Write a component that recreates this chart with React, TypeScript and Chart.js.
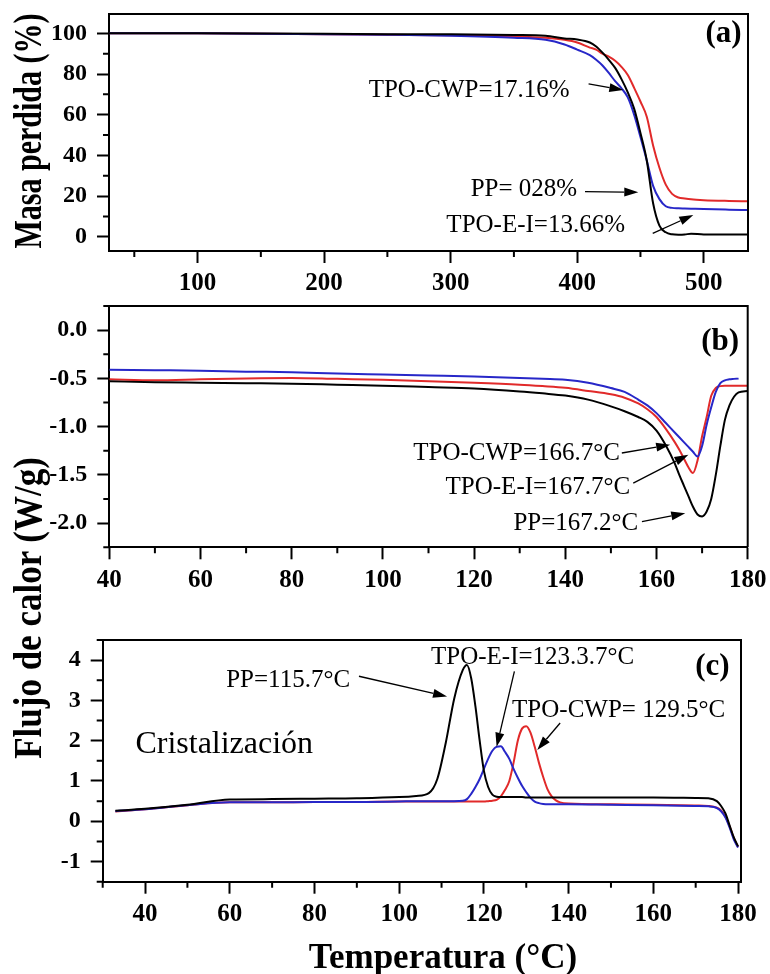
import React, { useEffect, useRef } from 'react';
import { Chart, registerables } from 'chart.js';

Chart.register(...registerables);

const SERIF = "'Liberation Serif', 'Times New Roman', 'DejaVu Serif', serif";
const COLOR_PP = '#000000';
const COLOR_EI = '#2727c8';
const COLOR_CWP = '#e12a2a';

// ---------- Panel (a): TGA ----------
const tgaTemp = [30, 100, 200, 250, 300, 350, 375, 390, 400, 410, 415, 420, 425, 430, 435, 440, 445, 450, 455, 460, 465, 470, 475, 480, 485, 490, 500, 520, 535];
const tgaPP = [100, 100, 99.8, 99.6, 99.5, 99.2, 98.8, 97.5, 97, 95.5, 93.5, 90.5, 87, 83, 77.5, 71, 63, 51, 37.5, 16.5, 5.5, 2.2, 1.2, 1.0, 1.1, 1.5, 1.1, 1.1, 1.1];
const tgaTPOEI = [100, 100, 99.6, 99.3, 98.8, 97.8, 96.8, 94.5, 92, 89.3, 87, 84.2, 80.5, 76.5, 73, 68.5, 60, 49, 37.5, 25, 18.5, 15, 14.2, 14, 13.9, 13.8, 13.6, 13.3, 13.1];
const tgaTPOCWP = [100, 100, 99.6, 99.3, 99, 98.5, 97.8, 96.8, 95.5, 93, 92, 90, 88.5, 86.5, 83.5, 79.5, 73.2, 66.5, 59, 44.9, 33.9, 25.6, 21.1, 19.3, 18.8, 18.4, 18, 17.6, 17.4];
const tgaXTicks = [100, 200, 300, 400, 500];
const tgaYTicks = [0, 20, 40, 60, 80, 100];

// ---------- Panel (b): DSC heating ----------
const heatTemp = [40, 50, 60, 70, 80, 90, 100, 110, 120, 130, 135, 140, 145, 150, 153, 156, 158, 160, 162, 164, 165, 166, 167, 168, 169, 170, 171, 172, 173, 174, 175, 176, 177, 178, 180];
const heatPP = [-0.53, -0.54, -0.545, -0.55, -0.555, -0.565, -0.575, -0.59, -0.605, -0.635, -0.655, -0.678, -0.72, -0.79, -0.84, -0.9, -0.95, -1.04, -1.19, -1.38, -1.5, -1.61, -1.72, -1.83, -1.91, -1.93, -1.88, -1.75, -1.5, -1.2, -0.93, -0.78, -0.69, -0.645, -0.63];
const heatTPOEI = [-0.41, -0.415, -0.42, -0.43, -0.436, -0.45, -0.46, -0.47, -0.48, -0.495, -0.505, -0.515, -0.545, -0.6, -0.64, -0.72, -0.78, -0.86, -0.96, -1.06, -1.11, -1.16, -1.21, -1.26, -1.31, -1.2, -0.98, -0.8, -0.64, -0.55, -0.52, -0.51, -0.505, -0.5, null];
const heatTPOCWP = [-0.51, -0.52, -0.51, -0.5, -0.495, -0.505, -0.515, -0.53, -0.545, -0.565, -0.58, -0.598, -0.63, -0.665, -0.7, -0.76, -0.82, -0.9, -1.02, -1.16, -1.24, -1.33, -1.42, -1.48, -1.35, -1.1, -0.9, -0.68, -0.6, -0.58, -0.575, -0.575, -0.575, -0.575, -0.575];
const heatXTicks = [40, 60, 80, 100, 120, 140, 160, 180];
const heatYTicks = [0, -0.5, -1, -1.5, -2];

// ---------- Panel (c): DSC cooling ----------
const coolTemp = [33, 40, 50, 60, 70, 80, 90, 100, 104, 107, 109, 111, 113, 115, 116, 117, 118, 119, 120, 121, 122, 123, 124, 125, 126, 127, 128, 129, 130, 131, 132, 133, 134, 135, 136, 137, 138, 140, 150, 160, 170, 173, 175, 176, 177, 178, 179, 180];
const coolPP = [0.26, 0.31, 0.41, 0.54, 0.55, 0.56, 0.57, 0.6, 0.63, 0.7, 1.05, 1.95, 3.05, 3.75, 3.88, 3.55, 2.85, 2.0, 1.25, 0.85, 0.66, 0.61, 0.6, 0.6, 0.6, 0.6, 0.6, 0.6, 0.59, 0.59, 0.59, 0.59, 0.59, 0.59, 0.59, 0.59, 0.59, 0.59, 0.59, 0.59, 0.58, 0.57, 0.5, 0.38, 0.2, -0.1, -0.4, -0.62];
const coolTPOEI = [0.25, 0.3, 0.4, 0.47, 0.47, 0.48, 0.48, 0.49, 0.5, 0.5, 0.5, 0.5, 0.5, 0.51, 0.55, 0.68, 0.85, 1.05, 1.3, 1.55, 1.75, 1.85, 1.86, 1.72, 1.55, 1.3, 1.08, 0.88, 0.72, 0.58, 0.49, 0.45, 0.43, 0.42, 0.42, 0.42, 0.42, 0.42, 0.41, 0.4, 0.38, 0.37, 0.33, 0.25, 0.1, -0.15, -0.45, -0.65];
const coolTPOCWP = [0.24, 0.3, 0.4, 0.47, 0.47, 0.48, 0.48, 0.49, 0.49, 0.49, 0.49, 0.49, 0.49, 0.49, 0.49, 0.49, 0.49, 0.49, 0.49, 0.5, 0.51, 0.53, 0.62, 0.78, 1.0, 1.45, 2.0, 2.3, 2.36, 2.2, 1.85, 1.45, 1.1, 0.8, 0.62, 0.52, 0.47, 0.44, 0.42, 0.41, 0.39, 0.38, 0.34, 0.27, 0.12, -0.12, -0.42, -0.64];
const coolXTicks = [40, 60, 80, 100, 120, 140, 160, 180];
const coolYTicks = [-1, 0, 1, 2, 3, 4];

// ---------- Annotations (data coordinates) ----------
type Note = { text: string; x: number; y: number; align: CanvasTextAlign; font: string };
type Arrow = { x1: number; y1: number; x2: number; y2: number };

const NOTE_FONT = `25px ${SERIF}`;
const LABEL_FONT = `bold 31px ${SERIF}`;

const tgaNotes: Note[] = [
  { text: 'TPO-CWP=17.16%', x: 394, y: 72.1, align: 'right', font: NOTE_FONT },
  { text: 'PP= 028%', x: 400, y: 23.2, align: 'right', font: NOTE_FONT },
  { text: 'TPO-E-I=13.66%', x: 437.8, y: 5.8, align: 'right', font: NOTE_FONT },
  { text: '(a)', x: 530, y: 99.5, align: 'right', font: LABEL_FONT },
];
const tgaArrows: Arrow[] = [
  { x1: 409, y1: 75.1, x2: 436.5, y2: 72.1 },
  { x1: 406.2, y1: 22.2, x2: 448.3, y2: 21.9 },
  { x1: 459.7, y1: 1.7, x2: 491.8, y2: 10.7 },
];

const heatNotes: Note[] = [
  { text: 'TPO-CWP=166.7°C', x: 152, y: -1.282, align: 'right', font: NOTE_FONT },
  { text: 'TPO-E-I=167.7°C', x: 154.2, y: -1.628, align: 'right', font: NOTE_FONT },
  { text: 'PP=167.2°C', x: 156, y: -2.0, align: 'right', font: NOTE_FONT },
  { text: '(b)', x: 178.1, y: -0.12, align: 'right', font: LABEL_FONT },
];
const heatArrows: Arrow[] = [
  { x1: 152.4, y1: -1.273, x2: 163, y2: -1.187 },
  { x1: 154.9, y1: -1.585, x2: 167, y2: -1.29 },
  { x1: 156.8, y1: -1.983, x2: 166.3, y2: -1.896 },
];

const coolNotes: Note[] = [
  { text: 'PP=115.7°C', x: 88.4, y: 3.5, align: 'right', font: NOTE_FONT },
  { text: 'TPO-E-I=123.3.7°C', x: 131.5, y: 4.06, align: 'center', font: NOTE_FONT },
  { text: 'TPO-CWP= 129.5°C', x: 151.8, y: 2.75, align: 'center', font: NOTE_FONT },
  { text: 'Cristalización', x: 58.7, y: 1.9, align: 'center', font: `32px ${SERIF}` },
  { text: '(c)', x: 178, y: 3.84, align: 'right', font: LABEL_FONT },
];
const coolArrows: Arrow[] = [
  { x1: 90.5, y1: 3.6, x2: 111.3, y2: 3.1 },
  { x1: 127.2, y1: 3.72, x2: 123, y2: 1.85 },
  { x1: 138, y1: 2.44, x2: 132.6, y2: 1.77 },
];

// ---------- Panel configuration ----------
type Series = { values: (number | null)[]; color: string };
type PanelCfg = {
  top: number; height: number;
  padding: { left: number; right: number; top: number; bottom: number };
  yWidth: number; xHeight: number;
  xMin: number; xMax: number; xTicks: number[]; xMinor: number;
  yMin: number; yMax: number; yTicks: number[]; yMinor: number;
  yFmt: (v: number) => string;
  temps: number[]; series: Series[];
  notes: Note[]; arrows: Arrow[];
};

const panels: PanelCfg[] = [
  {
    top: 0, height: 300,
    padding: { left: 29, right: 22, top: 14, bottom: 0 },
    yWidth: 80, xHeight: 49,
    xMin: 30, xMax: 535, xTicks: tgaXTicks, xMinor: 50,
    yMin: -7, yMax: 109.5, yTicks: tgaYTicks, yMinor: 10,
    yFmt: (v) => String(v),
    temps: tgaTemp,
    series: [
      { values: tgaPP, color: COLOR_PP },
      { values: tgaTPOEI, color: COLOR_EI },
      { values: tgaTPOCWP, color: COLOR_CWP },
    ],
    notes: tgaNotes, arrows: tgaArrows,
  },
  {
    top: 300, height: 300,
    padding: { left: 29.3, right: 22.3, top: 6, bottom: 0 },
    yWidth: 80, xHeight: 52.7,
    xMin: 40, xMax: 180, xTicks: heatXTicks, xMinor: 10,
    yMin: -2.25, yMax: 0.25, yTicks: heatYTicks, yMinor: 0.25,
    yFmt: (v) => v.toFixed(1),
    temps: heatTemp,
    series: [
      { values: heatPP, color: COLOR_PP },
      { values: heatTPOEI, color: COLOR_EI },
      { values: heatTPOCWP, color: COLOR_CWP },
    ],
    notes: heatNotes, arrows: heatArrows,
  },
  {
    top: 600, height: 374,
    padding: { left: 22.7, right: 29, top: 40, bottom: 0 },
    yWidth: 80, xHeight: 92.3,
    xMin: 30, xMax: 180.7, xTicks: coolXTicks, xMinor: 10,
    yMin: -1.5, yMax: 4.5, yTicks: coolYTicks, yMinor: 0.5,
    yFmt: (v) => String(v),
    temps: coolTemp,
    series: [
      { values: coolPP, color: COLOR_PP },
      { values: coolTPOEI, color: COLOR_EI },
      { values: coolTPOCWP, color: COLOR_CWP },
    ],
    notes: coolNotes, arrows: coolArrows,
  },
];

function makeDecor(cfg: PanelCfg) {
  return {
    id: 'decor',
    afterDraw(chart: any) {
      const { ctx, chartArea } = chart;
      const { left, right, top, bottom } = chartArea;
      const xs = chart.scales.x;
      const ys = chart.scales.y;
      ctx.save();
      ctx.strokeStyle = '#000';
      ctx.lineWidth = 2;
      ctx.beginPath();
      ctx.moveTo(left, top);
      ctx.lineTo(right, top);
      ctx.lineTo(right, bottom);
      ctx.stroke();

      const isMajor = (v: number, arr: number[]) => arr.some((m) => Math.abs(m - v) < 1e-6);
      ctx.beginPath();
      for (let i = Math.ceil(cfg.xMin / cfg.xMinor - 1e-9); i * cfg.xMinor <= cfg.xMax + 1e-9; i++) {
        const v = i * cfg.xMinor;
        if (isMajor(v, cfg.xTicks)) continue;
        const px = xs.getPixelForValue(v);
        ctx.moveTo(px, bottom);
        ctx.lineTo(px, bottom + 6);
      }
      for (let i = Math.ceil(cfg.yMin / cfg.yMinor - 1e-9); i * cfg.yMinor <= cfg.yMax + 1e-9; i++) {
        const v = i * cfg.yMinor;
        if (isMajor(v, cfg.yTicks)) continue;
        const py = ys.getPixelForValue(v);
        ctx.moveTo(left, py);
        ctx.lineTo(left - 6, py);
      }
      ctx.stroke();

      ctx.lineWidth = 1.3;
      ctx.fillStyle = '#000';
      for (const a of cfg.arrows) {
        const x1 = xs.getPixelForValue(a.x1);
        const y1 = ys.getPixelForValue(a.y1);
        const x2 = xs.getPixelForValue(a.x2);
        const y2 = ys.getPixelForValue(a.y2);
        const ang = Math.atan2(y2 - y1, x2 - x1);
        const hl = 14;
        const hw = 4.5;
        const bx = x2 - hl * Math.cos(ang);
        const by = y2 - hl * Math.sin(ang);
        ctx.beginPath();
        ctx.moveTo(x1, y1);
        ctx.lineTo(bx, by);
        ctx.stroke();
        ctx.beginPath();
        ctx.moveTo(x2, y2);
        ctx.lineTo(bx + hw * Math.sin(ang), by - hw * Math.cos(ang));
        ctx.lineTo(bx - hw * Math.sin(ang), by + hw * Math.cos(ang));
        ctx.closePath();
        ctx.fill();
      }

      ctx.textBaseline = 'middle';
      for (const n of cfg.notes) {
        ctx.font = n.font;
        ctx.textAlign = n.align;
        ctx.fillText(n.text, xs.getPixelForValue(n.x), ys.getPixelForValue(n.y));
      }
      ctx.restore();
    },
  };
}

function Panel({ cfg }: { cfg: PanelCfg }) {
  const ref = useRef<HTMLCanvasElement>(null);
  useEffect(() => {
    if (!ref.current) return;
    const zeroPad = (s: any) => {
      s.paddingLeft = 0; s.paddingRight = 0; s.paddingTop = 0; s.paddingBottom = 0;
    };
    const chart = new Chart(ref.current, {
      type: 'line',
      data: {
        datasets: cfg.series.map((s) => ({
          data: cfg.temps.map((t, i) => ({ x: t, y: s.values[i] })),
          borderColor: s.color,
          backgroundColor: s.color,
          borderWidth: 2,
          pointRadius: 0,
          fill: false,
          cubicInterpolationMode: 'monotone',
          spanGaps: false,
        })) as any,
      },
      options: {
        responsive: false,
        animation: false,
        devicePixelRatio: 1,
        layout: { padding: cfg.padding },
        plugins: { legend: { display: false }, tooltip: { enabled: false }, title: { display: false } },
        scales: {
          x: {
            type: 'linear',
            min: cfg.xMin,
            max: cfg.xMax,
            bounds: 'data',
            afterBuildTicks: (s: any) => { s.ticks = cfg.xTicks.map((v) => ({ value: v })); },
            afterFit: (s: any) => { s.height = cfg.xHeight; zeroPad(s); },
            ticks: {
              color: '#000',
              font: { family: SERIF, size: 25, weight: 'bold' },
              padding: 6,
              autoSkip: false,
              maxRotation: 0,
              minRotation: 0,
              callback: (v: any) => String(v),
            },
            grid: { drawOnChartArea: false, drawTicks: true, tickLength: 12, tickWidth: 2, tickColor: '#000', color: '#000' },
            border: { display: true, color: '#000', width: 2 },
          },
          y: {
            type: 'linear',
            min: cfg.yMin,
            max: cfg.yMax,
            bounds: 'data',
            afterBuildTicks: (s: any) => { s.ticks = cfg.yTicks.map((v) => ({ value: v })); },
            afterFit: (s: any) => { s.width = cfg.yWidth; zeroPad(s); },
            ticks: {
              color: '#000',
              font: { family: SERIF, size: 24, weight: 'bold' },
              padding: 10,
              autoSkip: false,
              callback: (v: any) => cfg.yFmt(Number(v)),
            },
            grid: { drawOnChartArea: false, drawTicks: true, tickLength: 12, tickWidth: 2, tickColor: '#000', color: '#000' },
            border: { display: true, color: '#000', width: 2 },
          },
        },
      } as any,
      plugins: [makeDecor(cfg)],
    });
    return () => chart.destroy();
  }, [cfg]);
  return (
    <canvas
      ref={ref}
      width={770}
      height={cfg.height}
      style={{ position: 'absolute', left: 0, top: cfg.top, width: 770, height: cfg.height }}
    />
  );
}

const titleBase: React.CSSProperties = {
  position: 'absolute',
  fontFamily: SERIF,
  fontWeight: 'bold',
  whiteSpace: 'nowrap',
  lineHeight: 1,
  color: '#000',
};

export default function App() {
  return (
    <div style={{ position: 'absolute', left: 0, top: 0, width: 770, height: 974, background: '#fff', overflow: 'hidden' }}>
      {panels.map((p, i) => (
        <Panel key={i} cfg={p} />
      ))}
      <div style={{ ...titleBase, left: 28, top: 131, fontSize: 30, transform: 'translate(-50%, -50%) rotate(-90deg) scaleY(1.3)' }}>
        Masa perdida (%)
      </div>
      <div style={{ ...titleBase, left: 28, top: 608, fontSize: 35, transform: 'translate(-50%, -50%) rotate(-90deg) scaleY(1.15)' }}>
        Flujo de calor (W/g)
      </div>
      <div style={{ ...titleBase, left: 443, top: 956, fontSize: 35, transform: 'translate(-50%, -50%)' }}>
        Temperatura (°C)
      </div>
    </div>
  );
}
